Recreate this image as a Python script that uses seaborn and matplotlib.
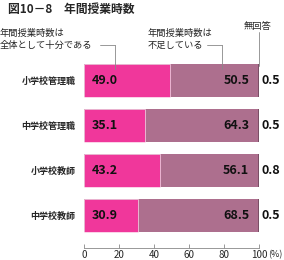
import matplotlib
matplotlib.use('Agg')
import matplotlib.pyplot as plt
import seaborn as sns
import pandas as pd

sns.set_theme(style='white')
plt.rcParams['font.family'] = ['Noto Sans CJK JP', 'DejaVu Sans']

categories = ['小学校管理職', '中学校管理職', '小学校教師', '中学校教師']
sufficient = [49.0, 35.1, 43.2, 30.9]
insufficient = [50.5, 64.3, 56.1, 68.5]
no_answer = [0.5, 0.5, 0.8, 0.5]
xticks = [0, 20, 40, 60, 80, 100]

c_suf = '#f0379b'
c_ins = '#ad6f8e'
c_na = '#7a4f66'

df = pd.DataFrame({'cat': categories, 'suf': sufficient,
                   'ins': insufficient, 'na': no_answer})
df['suf_ins'] = df['suf'] + df['ins']
df['total'] = df['suf_ins'] + df['na']

fig = plt.figure(figsize=(2.84, 2.6), dpi=100)
ax = fig.add_axes([84 / 284, 1 - 248 / 260, 175 / 284, 190 / 260])

h = 0.73
sns.barplot(data=df, x='total', y='cat', color=c_na, orient='h', width=h,
            ax=ax, saturation=1, edgecolor='none')
sns.barplot(data=df, x='suf_ins', y='cat', color=c_ins, orient='h', width=h,
            ax=ax, saturation=1, edgecolor='none')
sns.barplot(data=df, x='suf', y='cat', color=c_suf, orient='h', width=h,
            ax=ax, saturation=1, edgecolor='white', linewidth=0.4)

for i, row in df.iterrows():
    ax.text(4.5, i, f'{row.suf:.1f}', va='center', ha='left',
            fontsize=9, fontweight='bold', color='#111111')
    ax.text(row.suf_ins - 5, i, f'{row.ins:.1f}', va='center', ha='right',
            fontsize=9, fontweight='bold', color='#111111')
    ax.text(101.5, i, f'{row.na:.1f}', va='center', ha='left',
            fontsize=9, fontweight='bold', color='#111111')

ax.set_xlim(0, 100)
ax.set_ylim(3 + 32 / 45, -0.5)
ax.set_xlabel('')
ax.set_ylabel('')
ax.set_xticks(xticks)
ax.set_xticklabels([str(t) for t in xticks])
ax.tick_params(axis='x', direction='in', length=3, width=0.6,
               color='#888888', labelsize=7, pad=1.5, bottom=True)
ax.tick_params(axis='y', length=0, labelsize=6.5, pad=6)
for lab in ax.get_yticklabels():
    lab.set_fontweight('bold')
for s in ['top', 'right', 'left']:
    ax.spines[s].set_visible(False)
ax.spines['bottom'].set_color('#888888')
ax.spines['bottom'].set_linewidth(0.6)
ax.annotate('(%)', xy=(105, 0), xycoords=ax.get_xaxis_transform(),
            xytext=(0, -1.5), textcoords='offset points',
            ha='left', va='top', fontsize=6.5)

# title and legend-like labels
fig.text(8 / 284, 1 - 9 / 260, '図10－8　年間授業時数', fontsize=8.5,
         fontweight='bold', va='center', ha='left')
fig.text(0, 1 - 39 / 260, '年間授業時数は\n全体として十分である', fontsize=6.7,
         va='center', ha='left', linespacing=1.4)
fig.text(148 / 284, 1 - 39 / 260, '年間授業時数は\n不足している', fontsize=6.7,
         va='center', ha='left', linespacing=1.4)
fig.text(244 / 284, 1 - 27 / 260, '無回答', fontsize=6.7, va='center', ha='left')

lc = '#888888'
for x0, x1 in [(100, 115), (207, 222)]:
    fig.add_artist(plt.Line2D([x0 / 284, x1 / 284], [1 - 45 / 260, 1 - 45 / 260],
                              color=lc, lw=0.6))
    fig.add_artist(plt.Line2D([x1 / 284, x1 / 284], [1 - 45 / 260, 1 - 69 / 260],
                              color=lc, lw=0.6))
fig.add_artist(plt.Line2D([259 / 284, 259 / 284], [1 - 32 / 260, 1 - 66 / 260],
                          color=lc, lw=0.6))

fig.savefig('out.png', dpi=100)
